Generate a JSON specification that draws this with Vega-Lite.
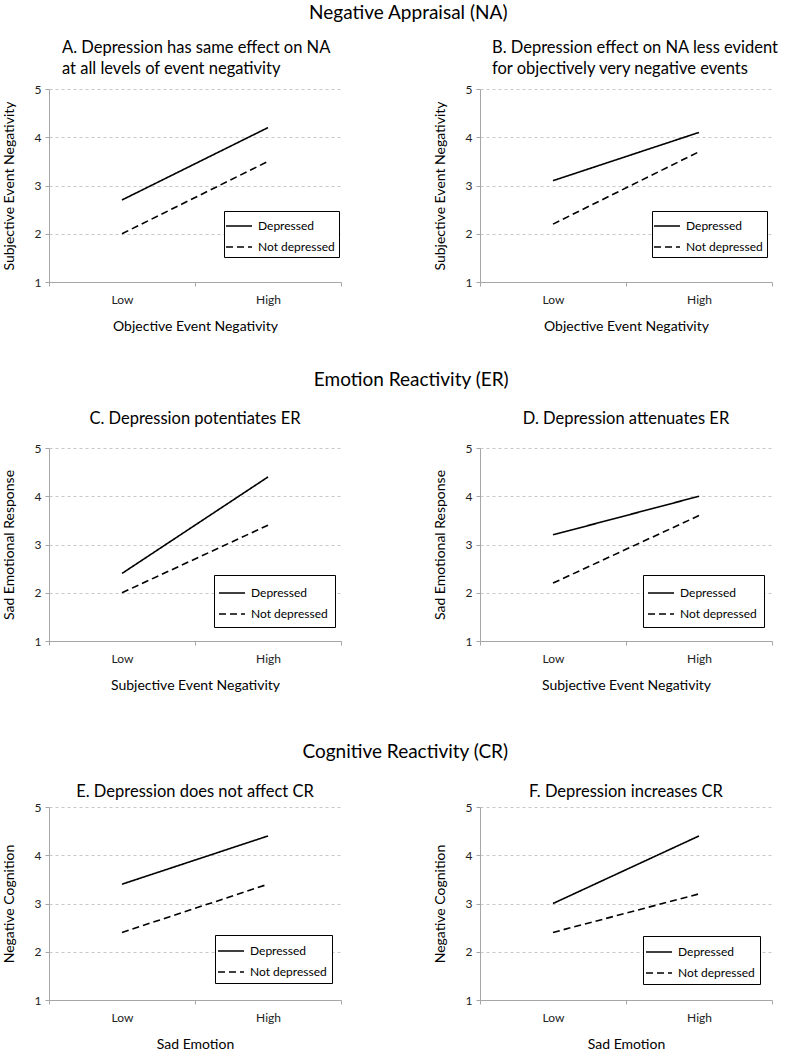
{
  "$schema": "https://vega.github.io/schema/vega-lite/v6.json",
  "padding": {"left": 2, "top": 3, "right": 5, "bottom": 0},
  "datasets": {
    "d": [
      {"panel": "A", "group": "Depressed", "level": "Low", "value": 2.7},
      {"panel": "A", "group": "Depressed", "level": "High", "value": 4.2},
      {"panel": "A", "group": "Not depressed", "level": "Low", "value": 2.0},
      {"panel": "A", "group": "Not depressed", "level": "High", "value": 3.5},
      {"panel": "B", "group": "Depressed", "level": "Low", "value": 3.1},
      {"panel": "B", "group": "Depressed", "level": "High", "value": 4.1},
      {"panel": "B", "group": "Not depressed", "level": "Low", "value": 2.2},
      {"panel": "B", "group": "Not depressed", "level": "High", "value": 3.7},
      {"panel": "C", "group": "Depressed", "level": "Low", "value": 2.4},
      {"panel": "C", "group": "Depressed", "level": "High", "value": 4.4},
      {"panel": "C", "group": "Not depressed", "level": "Low", "value": 2.0},
      {"panel": "C", "group": "Not depressed", "level": "High", "value": 3.4},
      {"panel": "D", "group": "Depressed", "level": "Low", "value": 3.2},
      {"panel": "D", "group": "Depressed", "level": "High", "value": 4.0},
      {"panel": "D", "group": "Not depressed", "level": "Low", "value": 2.2},
      {"panel": "D", "group": "Not depressed", "level": "High", "value": 3.6},
      {"panel": "E", "group": "Depressed", "level": "Low", "value": 3.4},
      {"panel": "E", "group": "Depressed", "level": "High", "value": 4.4},
      {"panel": "E", "group": "Not depressed", "level": "Low", "value": 2.4},
      {"panel": "E", "group": "Not depressed", "level": "High", "value": 3.4},
      {"panel": "F", "group": "Depressed", "level": "Low", "value": 3.0},
      {"panel": "F", "group": "Depressed", "level": "High", "value": 4.4},
      {"panel": "F", "group": "Not depressed", "level": "Low", "value": 2.4},
      {"panel": "F", "group": "Not depressed", "level": "High", "value": 3.2}
    ]
  },
  "resolve": {"scale": {"strokeDash": "independent"}, "legend": {"strokeDash": "independent"}},
  "spacing": 50,
  "vconcat": [
    {
      "resolve": {"scale": {"strokeDash": "independent"}, "legend": {"strokeDash": "independent"}},
      "spacing": 37,
      "vconcat": [
        {
          "title": {"text": "Negative Appraisal (NA)", "fontSize": 19, "anchor": "middle", "dx": 18, "offset": 17},
          "resolve": {"scale": {"strokeDash": "independent"}, "legend": {"strokeDash": "independent"}},
          "spacing": 91,
          "hconcat": [
            {
              "title": {"text": ["A. Depression has same effect on NA", "at all levels of event negativity"], "anchor": "start", "frame": "group", "dx": 13, "offset": 6},
              "width": 292, "height": 193,
              "data": {"name": "d"},
              "transform": [{"filter": {"field": "panel", "equal": "A"}}],
              "mark": {"type": "line", "color": "black", "strokeWidth": 1.6},
              "encoding": {
                "x": {"field": "level", "type": "nominal", "sort": ["Low", "High"], "scale": {"type": "band", "paddingInner": 0, "paddingOuter": 0}, "axis": {"title": "Objective Event Negativity", "labelAngle": 0, "tickBand": "extent"}},
                "y": {"field": "value", "type": "quantitative", "scale": {"domain": [1, 5]}, "axis": {"title": "Subjective Event Negativity", "values": [1, 2, 3, 4, 5]}},
                "strokeDash": {"field": "group", "type": "nominal", "scale": {"domain": ["Depressed", "Not depressed"], "range": [[1, 0], [7, 4]]}, "legend": {"legendX": 175, "legendY": 122, "padding": 4}}
              }
            },
            {
              "title": {"text": ["B. Depression effect on NA less evident", "for objectively very negative events"], "anchor": "start", "frame": "group", "dx": 12, "offset": 6},
              "width": 292, "height": 193,
              "data": {"name": "d"},
              "transform": [{"filter": {"field": "panel", "equal": "B"}}],
              "mark": {"type": "line", "color": "black", "strokeWidth": 1.6},
              "encoding": {
                "x": {"field": "level", "type": "nominal", "sort": ["Low", "High"], "scale": {"type": "band", "paddingInner": 0, "paddingOuter": 0}, "axis": {"title": "Objective Event Negativity", "labelAngle": 0, "tickBand": "extent"}},
                "y": {"field": "value", "type": "quantitative", "scale": {"domain": [1, 5]}, "axis": {"title": "Subjective Event Negativity", "values": [1, 2, 3, 4, 5]}},
                "strokeDash": {"field": "group", "type": "nominal", "scale": {"domain": ["Depressed", "Not depressed"], "range": [[1, 0], [7, 4]]}, "legend": {"legendX": 172, "legendY": 122, "padding": 4}}
              }
            }
          ]
        },
        {
          "title": {"text": "Emotion Reactivity (ER)", "fontSize": 19, "anchor": "middle", "dx": 24, "offset": 21},
          "resolve": {"scale": {"strokeDash": "independent"}, "legend": {"strokeDash": "independent"}},
          "spacing": 91,
          "hconcat": [
            {
              "title": {"text": "C. Depression potentiates ER", "anchor": "middle", "offset": 15},
              "width": 292, "height": 193,
              "data": {"name": "d"},
              "transform": [{"filter": {"field": "panel", "equal": "C"}}],
              "mark": {"type": "line", "color": "black", "strokeWidth": 1.6},
              "encoding": {
                "x": {"field": "level", "type": "nominal", "sort": ["Low", "High"], "scale": {"type": "band", "paddingInner": 0, "paddingOuter": 0}, "axis": {"title": "Subjective Event Negativity", "labelAngle": 0, "tickBand": "extent"}},
                "y": {"field": "value", "type": "quantitative", "scale": {"domain": [1, 5]}, "axis": {"title": "Sad Emotional Response", "values": [1, 2, 3, 4, 5]}},
                "strokeDash": {"field": "group", "type": "nominal", "scale": {"domain": ["Depressed", "Not depressed"], "range": [[1, 0], [7, 4]]}, "legend": {"legendX": 165, "legendY": 127, "padding": 7}}
              }
            },
            {
              "title": {"text": "D. Depression attenuates ER", "anchor": "middle", "offset": 15},
              "width": 292, "height": 193,
              "data": {"name": "d"},
              "transform": [{"filter": {"field": "panel", "equal": "D"}}],
              "mark": {"type": "line", "color": "black", "strokeWidth": 1.6},
              "encoding": {
                "x": {"field": "level", "type": "nominal", "sort": ["Low", "High"], "scale": {"type": "band", "paddingInner": 0, "paddingOuter": 0}, "axis": {"title": "Subjective Event Negativity", "labelAngle": 0, "tickBand": "extent"}},
                "y": {"field": "value", "type": "quantitative", "scale": {"domain": [1, 5]}, "axis": {"title": "Sad Emotional Response", "values": [1, 2, 3, 4, 5]}},
                "strokeDash": {"field": "group", "type": "nominal", "scale": {"domain": ["Depressed", "Not depressed"], "range": [[1, 0], [7, 4]]}, "legend": {"legendX": 163, "legendY": 127, "padding": 7}}
              }
            }
          ]
        }
      ]
    },
    {
      "title": {"text": "Cognitive Reactivity (CR)", "fontSize": 19, "anchor": "middle", "dx": 18, "offset": 22},
      "resolve": {"scale": {"strokeDash": "independent"}, "legend": {"strokeDash": "independent"}},
      "spacing": 91,
      "hconcat": [
        {
          "title": {"text": "E. Depression does not affect CR", "anchor": "middle", "offset": 1},
          "width": 292, "height": 193,
          "data": {"name": "d"},
          "transform": [{"filter": {"field": "panel", "equal": "E"}}],
          "mark": {"type": "line", "color": "black", "strokeWidth": 1.6},
          "encoding": {
            "x": {"field": "level", "type": "nominal", "sort": ["Low", "High"], "scale": {"type": "band", "paddingInner": 0, "paddingOuter": 0}, "axis": {"title": "Sad Emotion", "labelAngle": 0, "tickBand": "extent"}},
            "y": {"field": "value", "type": "quantitative", "scale": {"domain": [1, 5]}, "axis": {"title": "Negative Cognition", "values": [1, 2, 3, 4, 5]}},
            "strokeDash": {"field": "group", "type": "nominal", "scale": {"domain": ["Depressed", "Not depressed"], "range": [[1, 0], [7, 4]]}, "legend": {"legendX": 166, "legendY": 128, "padding": 5}}
          }
        },
        {
          "title": {"text": "F. Depression increases CR", "anchor": "middle", "offset": 1},
          "width": 292, "height": 193,
          "data": {"name": "d"},
          "transform": [{"filter": {"field": "panel", "equal": "F"}}],
          "mark": {"type": "line", "color": "black", "strokeWidth": 1.6},
          "encoding": {
            "x": {"field": "level", "type": "nominal", "sort": ["Low", "High"], "scale": {"type": "band", "paddingInner": 0, "paddingOuter": 0}, "axis": {"title": "Sad Emotion", "labelAngle": 0, "tickBand": "extent"}},
            "y": {"field": "value", "type": "quantitative", "scale": {"domain": [1, 5]}, "axis": {"title": "Negative Cognition", "values": [1, 2, 3, 4, 5]}},
            "strokeDash": {"field": "group", "type": "nominal", "scale": {"domain": ["Depressed", "Not depressed"], "range": [[1, 0], [7, 4]]}, "legend": {"legendX": 163, "legendY": 129, "padding": 5}}
          }
        }
      ]
    }
  ],
  "config": {
    "font": "Lato",
    "view": {"stroke": null},
    "title": {"fontSize": 16.5, "fontWeight": "normal", "color": "black", "lineHeight": 21},
    "axis": {
      "domainColor": "#a6a6a6", "tickColor": "#a6a6a6", "gridColor": "#c8c8c8", "gridDash": [3, 3],
      "labelFontSize": 12, "labelColor": "#222222", "titleFontSize": 14, "titleFontWeight": "normal", "titleColor": "black",
      "tickSize": 4, "labelPadding": 4
    },
    "axisX": {"grid": false, "labelPadding": 8, "titlePadding": 14},
    "axisY": {"titlePadding": 18, "titleFontSize": 14},
    "legend": {
      "orient": "none", "title": null, "strokeColor": "black", "fillColor": "white", "padding": 4,
      "symbolSize": 400, "symbolStrokeWidth": 1.6, "symbolStrokeColor": "black", "symbolType": "M-1.3,0H1.3",
      "labelFontSize": 12, "labelColor": "black", "rowPadding": 4, "labelOffset": 8
    }
  }
}
